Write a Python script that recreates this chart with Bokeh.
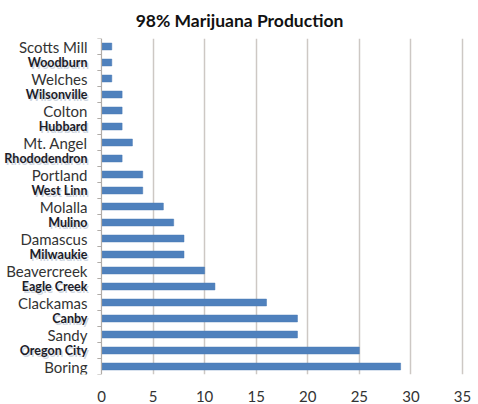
from bokeh.plotting import figure
from bokeh.models import Range1d, FixedTicker, Span, ColumnDataSource
from bokeh.core.properties import value
from bokeh.embed import file_html
from bokeh.resources import INLINE

# Data (top to bottom as shown)
towns = ["Scotts Mill", "Woodburn", "Welches", "Wilsonville", "Colton", "Hubbard",
         "Mt. Angel", "Rhododendron", "Portland", "West Linn", "Molalla", "Mulino",
         "Damascus", "Milwaukie", "Beavercreek", "Eagle Creek", "Clackamas", "Canby",
         "Sandy", "Oregon City", "Boring"]
counts = [1, 1, 1, 2, 2, 2, 3, 2, 4, 4, 6, 7, 8, 8, 10, 11, 16, 19, 19, 25, 29]
bold_label = [False, True, False, True, False, True, False, True, False, True, False,
              True, False, True, False, True, False, True, False, True, False]
x_ticks = [0, 5, 10, 15, 20, 25, 30, 35]

n = len(towns)
ypos = [n - 1 - i + 0.5 for i in range(n)]

W, H = 478, 404
p = figure(width=W, height=H, output_backend="svg", toolbar_location=None,
           x_range=Range1d(-9.79, 36.55), y_range=Range1d(0, n),
           y_axis_location=None, min_border_left=0, min_border_right=0,
           min_border_top=38, min_border_bottom=29,
           title="98% Marijuana Production")
p.outline_line_color = None
p.background_fill_color = "white"
p.border_fill_color = "white"

p.title.align = "center"
p.title.text_font = "Lato"
p.title.text_font_style = "bold"
p.title.text_font_size = "17.5px"
p.title.text_color = "#111111"
p.title.standoff = 15

p.xaxis.ticker = FixedTicker(ticks=x_ticks)
p.xaxis.axis_line_color = None
p.xaxis.major_tick_line_color = None
p.xaxis.minor_tick_line_color = None
p.xaxis.major_label_text_font = "Lato"
p.xaxis.major_label_text_font_size = "15px"
p.xaxis.major_label_text_color = "#333333"
p.xaxis.major_label_standoff = 10

p.xgrid.ticker = FixedTicker(ticks=x_ticks[1:])
p.xgrid.grid_line_color = "#cdc8c4"
p.xgrid.grid_line_width = 1.5
p.ygrid.grid_line_color = None

p.add_layout(Span(location=0, dimension="height", line_color="#b0aca8", line_width=1.2))

# y tick marks at category boundaries
bounds = list(range(n + 1))
p.segment(x0=[-0.4] * len(bounds), x1=[0] * len(bounds), y0=bounds, y1=bounds,
          line_color="#b0aca8", line_width=1)

p.hbar(y=ypos, left=0, right=counts, height=0.43, fill_color="#4F81BD",
       line_color="#4A7AB5", line_width=0.5)

reg_src = ColumnDataSource(dict(
    y=[y for y, b in zip(ypos, bold_label) if not b],
    t=[t for t, b in zip(towns, bold_label) if not b]))
bold_src = ColumnDataSource(dict(
    y=[y for y, b in zip(ypos, bold_label) if b],
    t=[t for t, b in zip(towns, bold_label) if b]))

p.text(x=-1.36, y="y", text="t", source=reg_src, text_align="right",
       text_baseline="middle", text_font=value("Lato"), text_font_size="15px",
       text_color="#333333")
# soft shadow for the bold labels
p.text(x=-1.36, y="y", text="t", source=bold_src, text_align="right",
       text_baseline="middle", text_font=value("Lato"), text_font_size="12.5px",
       text_font_style="bold", text_color="#9fb0c4", text_alpha=0.5,
       x_offset=1.5, y_offset=1.5)
p.text(x=-1.36, y="y", text="t", source=bold_src, text_align="right",
       text_baseline="middle", text_font=value("Lato"), text_font_size="12.5px",
       text_font_style="bold", text_color="#1c1c28")

open("out.html", "w").write(file_html(p, INLINE))
